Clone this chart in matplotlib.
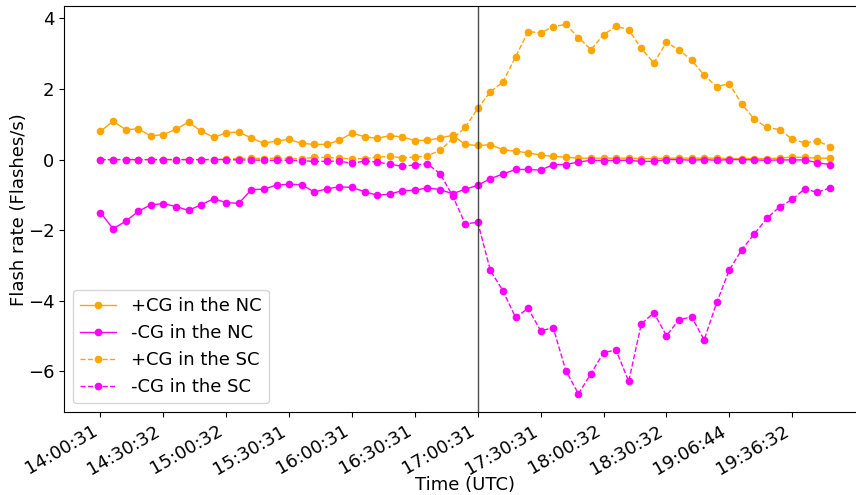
import numpy as np
import matplotlib
matplotlib.use("Agg")
import matplotlib.pyplot as plt

plt.rcParams['font.size'] = 13

# tick labels shown on the x axis (every 5th sample)
tick_labels = ["14:00:31", "14:30:32", "15:00:32", "15:30:31", "16:00:31", "16:30:31",
               "17:00:31", "17:30:31", "18:00:32", "18:30:32", "19:06:44", "19:36:32"]

# +CG in the NC
pos_nc = [0.80, 1.09, 0.85, 0.87, 0.67, 0.71, 0.86, 1.06, 0.81, 0.63,
          0.76, 0.78, 0.61, 0.46, 0.53, 0.57, 0.46, 0.43, 0.43, 0.55,
          0.75, 0.65, 0.60, 0.68, 0.64, 0.54, 0.55, 0.61, 0.69, 0.43,
          0.40, 0.42, 0.28, 0.24, 0.19, 0.13, 0.09, 0.07, 0.04, 0.04,
          0.04, 0.04, 0.04, 0.03, 0.03, 0.04, 0.04, 0.04, 0.04, 0.04,
          0.03, 0.03, 0.03, 0.03, 0.04, 0.07, 0.06, 0.04, 0.04]

# -CG in the NC
neg_nc = [-1.50, -1.96, -1.75, -1.47, -1.28, -1.25, -1.33, -1.44, -1.28, -1.11,
          -1.22, -1.24, -0.85, -0.84, -0.72, -0.70, -0.71, -0.92, -0.83, -0.77,
          -0.79, -0.91, -1.01, -0.98, -0.88, -0.87, -0.80, -0.85, -0.97, -0.84,
          -0.73, -0.54, -0.41, -0.28, -0.28, -0.30, -0.14, -0.14, -0.07, -0.02,
          -0.03, -0.02, -0.02, -0.05, -0.05, 0.00, 0.00, -0.02, 0.00, -0.02,
          0.00, 0.00, -0.01, -0.02, -0.01, -0.01, -0.01, -0.09, -0.14]

# +CG in the SC
pos_sc = [0.00, 0.00, 0.00, 0.00, 0.00, 0.00, 0.00, 0.00, 0.00, 0.00,
          0.01, 0.03, 0.04, 0.03, 0.04, 0.03, 0.03, 0.06, 0.06, 0.04,
          0.02, 0.03, 0.07, 0.09, 0.05, 0.07, 0.11, 0.26, 0.59, 0.91,
          1.45, 1.92, 2.20, 2.91, 3.63, 3.59, 3.77, 3.83, 3.46, 3.12,
          3.54, 3.78, 3.68, 3.15, 2.74, 3.32, 3.11, 2.82, 2.39, 2.07,
          2.15, 1.57, 1.14, 0.91, 0.85, 0.58, 0.47, 0.53, 0.37]

# -CG in the SC
neg_sc = [0.00, 0.00, 0.00, 0.00, 0.00, 0.00, 0.00, 0.00, 0.00, 0.00,
          0.00, -0.01, -0.01, -0.02, -0.02, -0.02, -0.03, -0.05, -0.05, -0.04,
          -0.11, -0.04, -0.07, -0.13, -0.19, -0.15, -0.12, -0.40, -1.03, -1.82,
          -1.78, -3.14, -3.72, -4.47, -4.22, -4.85, -4.77, -5.98, -6.64, -6.07,
          -5.47, -5.40, -6.29, -4.66, -4.34, -4.99, -4.54, -4.46, -5.11, -4.05,
          -3.13, -2.55, -2.10, -1.66, -1.34, -1.13, -0.83, -0.93, -0.80]

event_index = 30  # 17:00:31


def main():
    x = np.arange(len(pos_nc))

    fig = plt.figure(figsize=(8.56, 4.95), dpi=100)
    ax = fig.add_axes([64 / 856, 82.7 / 495, 802.4 / 856, 406.3 / 495])

    ax.plot(x, pos_nc, '-o', color='orange', lw=1, ms=4.5, label='+CG in the NC')
    ax.plot(x, neg_nc, '-o', color='magenta', lw=1, ms=4.5, label='-CG in the NC')
    ax.plot(x, pos_sc, '--o', color='orange', lw=1, ms=4.5, label='+CG in the SC')
    ax.plot(x, neg_sc, '--o', color='magenta', lw=1, ms=4.5, label='-CG in the SC')

    ax.axvline(event_index, color='k', alpha=0.7, lw=1)

    ax.set_xticks(x[::5])
    ax.set_xticklabels(tick_labels, rotation=30, ha='right')
    ax.set_xlabel('Time (UTC)', labelpad=-1.5)
    ax.set_ylabel('Flash rate (Flashes/s)', labelpad=-0.5)
    ax.legend(loc='lower left')

    fig.savefig('out.png', dpi=100)


if __name__ == "__main__":
    main()
